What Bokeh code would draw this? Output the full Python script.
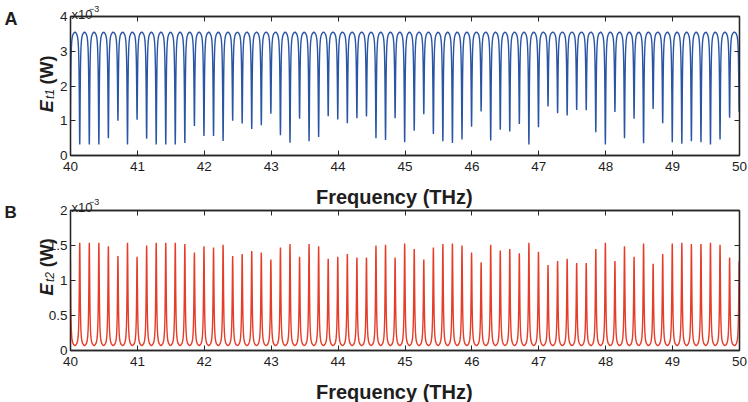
from math import pi
from bokeh.plotting import figure
from bokeh.models import Range1d, FixedTicker, LinearAxis, Label, CustomJSTickFormatter
from bokeh.layouts import column
from bokeh.embed import file_html
from bokeh.resources import INLINE

# ---------------- data ----------------
# centre frequency of each resonance (THz)
dip_freq = [39.995, 40.138, 40.281, 40.424, 40.566, 40.709, 40.852,
            40.995, 41.138, 41.281, 41.424, 41.566, 41.709, 41.852,
            41.995, 42.138, 42.281, 42.424, 42.566, 42.709, 42.852,
            42.995, 43.138, 43.281, 43.424, 43.566, 43.709, 43.852,
            43.995, 44.138, 44.281, 44.424, 44.566, 44.709, 44.852,
            44.995, 45.138, 45.281, 45.424, 45.566, 45.709, 45.852,
            45.995, 46.138, 46.281, 46.424, 46.566, 46.709, 46.852,
            46.995, 47.138, 47.281, 47.424, 47.566, 47.709, 47.852,
            47.995, 48.138, 48.281, 48.424, 48.566, 48.709, 48.852,
            48.995, 49.138, 49.281, 49.424, 49.566, 49.709, 49.852,
            49.995]

# panel A: minimum of each dip (x1e-3 W)
dip_min_A = [0.50, 0.32, 0.32, 0.32, 0.50, 1.00, 0.32,
             1.03, 0.48, 0.32, 0.32, 0.32, 0.36, 0.85,
             0.56, 0.56, 0.42, 1.00, 0.92, 0.76, 0.87,
             1.20, 0.58, 0.37, 1.06, 0.41, 0.53, 1.13,
             1.04, 0.93, 1.07, 1.12, 0.50, 0.45, 1.07,
             0.38, 0.71, 1.19, 0.62, 0.41, 0.36, 0.46,
             0.83, 1.27, 0.43, 0.74, 0.69, 0.91, 0.32,
             0.81, 1.41, 1.22, 1.15, 1.31, 1.30, 0.67,
             0.32, 1.25, 0.50, 1.06, 0.35, 1.34, 0.93,
             0.38, 0.34, 0.41, 0.38, 0.32, 0.46, 1.09,
             1.25]
top_A = 3.55          # level between dips (x1e-3 W)

# panel B: maximum of each peak (x1e-3 W)
peak_max_B = [1.45, 1.54, 1.54, 1.54, 1.49, 1.35, 1.54,
              1.34, 1.50, 1.54, 1.54, 1.54, 1.52, 1.40,
              1.49, 1.47, 1.51, 1.35, 1.38, 1.42, 1.40,
              1.30, 1.47, 1.52, 1.34, 1.52, 1.49, 1.31,
              1.34, 1.38, 1.33, 1.33, 1.50, 1.51, 1.33,
              1.53, 1.45, 1.30, 1.47, 1.52, 1.53, 1.50,
              1.40, 1.26, 1.51, 1.43, 1.45, 1.39, 1.54,
              1.41, 1.22, 1.28, 1.31, 1.25, 1.25, 1.45,
              1.54, 1.28, 1.49, 1.34, 1.53, 1.24, 1.38,
              1.53, 1.54, 1.52, 1.52, 1.54, 1.51, 1.33,
              1.28]
base_B = 0.07         # level between peaks (x1e-3 W)

# line shape of one resonance: offset from centre (THz) and relative height
res_offset = [0, 0.0014, 0.0029, 0.0043, 0.0057, 0.0071, 0.0093, 0.0114,
              0.0143, 0.0186, 0.0243, 0.0314, 0.0429, 0.0571, 0.0714]
res_shape = [1, 0.968, 0.882, 0.768, 0.650, 0.542, 0.410, 0.313,
             0.223, 0.142, 0.084, 0.047, 0.021, 0.0066, 0]

x_ticks = [40, 41, 42, 43, 44, 45, 46, 47, 48, 49, 50]
y_ticks_A = [0, 1, 2, 3, 4]
y_ticks_B = [0, 0.5, 1, 1.5, 2]
y_labels_B = {0: "0", 0.5: "0.5", 1: "1", 1.5: "1.5", 2: "2"}

# ---------------- styling ----------------
FONT = "Liberation Sans"
AX = "#262626"
TXT = "#1e1e1e"
BLUE = "#2a55a5"
RED = "#e53d29"


def build_curve(centres, levels, ref):
    xs, ys = [], []
    n = len(res_offset)
    for c, lv in zip(centres, levels):
        for j in range(n - 1, 0, -1):
            xs.append(c - res_offset[j])
            ys.append(ref + (lv - ref) * res_shape[j])
        for j in range(0, n):
            xs.append(c + res_offset[j])
            ys.append(ref + (lv - ref) * res_shape[j])
    return xs, ys


def style_axis(ax, ticks, show_labels):
    ax.ticker = FixedTicker(ticks=ticks)
    ax.axis_line_color = AX
    ax.axis_line_width = 1.3
    ax.major_tick_line_color = AX
    ax.major_tick_line_width = 1
    ax.major_tick_in = 5
    ax.major_tick_out = 0
    ax.minor_tick_line_color = None
    ax.major_label_text_font = FONT
    ax.major_label_text_color = TXT
    if show_labels:
        ax.major_label_text_font_size = "13.5px"
    else:
        ax.formatter = CustomJSTickFormatter(code="return ''")
        ax.major_label_text_font_size = "4px"
        ax.major_label_standoff = 0


def make_panel(h, b_top, b_bottom, ymax, yticks):
    p = figure(width=748, height=h, x_range=Range1d(40, 50), y_range=Range1d(0, ymax),
               output_backend="svg", toolbar_location=None,
               min_border_left=70, min_border_right=9,
               min_border_top=b_top, min_border_bottom=b_bottom)
    p.frame_align = False
    p.xgrid.visible = False
    p.ygrid.visible = False
    p.background_fill_color = "white"
    p.border_fill_color = None
    p.outline_line_color = AX
    p.outline_line_width = 1.3
    style_axis(p.xaxis[0], x_ticks, True)
    p.xaxis[0].major_label_standoff = 6
    style_axis(p.yaxis[0], yticks, True)
    p.yaxis[0].major_label_standoff = 3
    top_ax = LinearAxis()
    style_axis(top_ax, x_ticks, False)
    p.add_layout(top_ax, "above")
    right_ax = LinearAxis()
    style_axis(right_ax, yticks, False)
    p.add_layout(right_ax, "right")
    return p


# ---------------- panel A ----------------
pA = make_panel(211, 16, 56, 4, y_ticks_A)
xa, ya = build_curve(dip_freq, dip_min_A, top_A)
pA.line(xa, ya, line_color=BLUE, line_width=1.4)

# ---------------- panel B ----------------
pB = make_panel(212, 20, 52, 2, y_ticks_B)
pB.yaxis[0].major_label_overrides = y_labels_B
xb, yb = build_curve(dip_freq, peak_max_B, base_B)
pB.line(xb, yb, line_color=RED, line_width=1.4)
pB.margin = (-21, 0, 0, 0)

# ---------------- text overlay (pixel coordinates, y downwards) ----------------
ov = figure(width=748, height=402, x_range=Range1d(0, 748), y_range=Range1d(402, 0),
            output_backend="svg", toolbar_location=None, x_axis_type=None, y_axis_type=None,
            min_border_left=0, min_border_right=0, min_border_top=0, min_border_bottom=0)
ov.frame_align = False
ov.xgrid.visible = False
ov.ygrid.visible = False
ov.outline_line_color = None
ov.background_fill_color = None
ov.border_fill_color = None
ov.margin = (-402, 0, 0, 0)


def add_text(x, y, text, size, style="normal", angle=0, align="left"):
    ov.add_layout(Label(x=x, y=y, text=text, angle=angle,
                        text_font=FONT, text_font_size=size, text_font_style=style,
                        text_color=TXT, text_align=align, text_baseline="alphabetic"))


# panel A texts
add_text(4, 18.5, "A", "18px", "bold")
add_text(71, 13.5, "x10", "13px")
add_text(88.5, 8, "\u22123", "9px")
add_text(46.7, 111.7, "E", "18px", "bold italic", angle=pi / 2)
add_text(49.5, 98.5, "t1", "12px", "italic", angle=pi / 2)
add_text(46.7, 84, "(W)", "18px", "bold", angle=pi / 2)
add_text(393.8, 196.5, "Frequency (THz)", "20px", "bold", align="center")

# panel B texts
add_text(4, 211.5, "B", "17px", "bold")
add_text(71, 206.7, "x10", "13px")
add_text(88.5, 201.5, "\u22123", "9px")
add_text(46.7, 295, "E", "18px", "bold italic", angle=pi / 2)
add_text(49.5, 281.5, "t2", "12px", "italic", angle=pi / 2)
add_text(46.7, 266.7, "(W)", "18px", "bold", angle=pi / 2)
add_text(393.8, 391, "Frequency (THz)", "20px", "bold", align="center")

layout = column(pA, pB, ov, spacing=0)
open("out.html", "w").write(file_html(layout, INLINE))
